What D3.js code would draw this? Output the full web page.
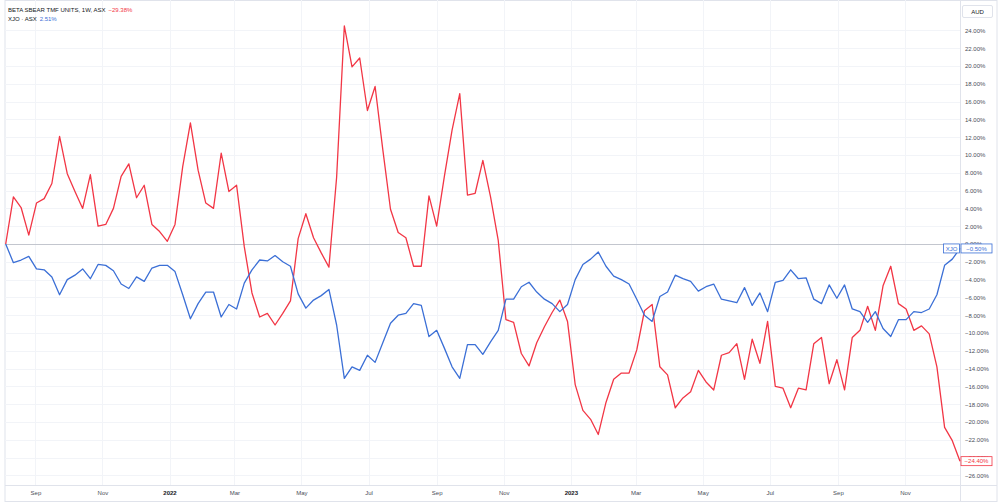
<html>
<head>
<script src="https://cdnjs.cloudflare.com/ajax/libs/d3/7.8.5/d3.min.js"></script>
<style>
  body { margin: 0; background: #fff; }
  text { font-family: "Liberation Sans", Arial, sans-serif; }
</style>
</head>
<body>
<script>

// weekly % change since first bar
var betaValues = [0, 5.3, 4.1, 1.0, 4.6, 5.1, 6.8, 12.1, 7.9, 5.9, 4.0, 7.8, 2.0, 2.2, 4.0, 7.6, 9.0, 5.2, 6.6, 2.2,
  1.4, 0.3, 2.2, 8.7, 13.6, 8.3, 4.6, 4.0, 10.2, 5.9, 6.6, -0.3, -5.5, -8.2, -7.8, -9.1, -7.8, -6.4, 0.6, 3.4,
  0.7, -1.0, -2.6, 7.5, 24.5, 19.9, 20.9, 15.0, 17.7, 10.6, 3.9, 1.3, 0.7, -2.5, -2.5, 5.4, 2.0, 7.6, 12.8, 16.9,
  5.5, 5.7, 9.4, 5.3, 0.4, -8.5, -8.8, -12.3, -13.7, -11.1, -9.3, -7.7, -6.3, -8.7, -15.8, -18.7, -19.7, -21.4, -17.8, -15.2,
  -14.5, -14.5, -11.9, -7.5, -6.8, -13.8, -14.7, -18.4, -17.3, -16.6, -14.2, -15.5, -16.4, -12.5, -12.2, -11.2, -15.2, -10.7, -13.4, -8.7,
  -16.0, -16.2, -18.4, -16.2, -16.4, -11.2, -10.5, -15.7, -13.0, -16.4, -10.5, -9.7, -7.0, -9.7, -4.7, -2.5, -6.7, -7.3, -9.7, -9.2,
  -10.1, -13.8, -20.6, -22.1, -24.4];

var xjoValues = [0, -2.1, -1.8, -1.4, -2.8, -2.9, -3.7, -5.7, -4.0, -3.5, -2.8, -3.9, -2.3, -2.4, -3.0, -4.5, -5.0, -3.7, -4.2, -2.7,
  -2.4, -2.4, -3.1, -5.7, -8.4, -6.7, -5.4, -5.4, -8.2, -6.8, -7.3, -4.4, -2.9, -1.8, -1.9, -1.3, -2.0, -2.5, -5.6, -7.2,
  -6.3, -5.8, -5.1, -9.1, -15.1, -13.8, -14.2, -12.5, -13.3, -11.1, -8.9, -8.0, -7.8, -6.7, -6.9, -10.4, -9.7, -11.7, -13.8, -15.1,
  -11.3, -11.3, -12.4, -11.0, -9.7, -6.2, -6.2, -4.8, -4.3, -5.4, -6.2, -6.7, -7.6, -6.8, -4.0, -2.3, -1.7, -0.9, -2.5, -3.6,
  -4.0, -4.5, -6.2, -8.0, -8.7, -5.9, -5.4, -3.5, -3.9, -4.2, -5.3, -4.8, -4.5, -6.2, -6.4, -6.6, -4.9, -6.9, -5.5, -7.6,
  -4.3, -4.1, -2.9, -3.9, -3.8, -6.2, -6.7, -4.6, -6.1, -4.6, -7.3, -7.6, -8.8, -7.6, -9.5, -10.4, -8.5, -8.5, -7.6, -7.7,
  -7.3, -5.7, -2.4, -1.7, -0.5];

var firstWeek = new Date(2021, 7, 5);
var weeks = betaValues.map(function(d, i) { return d3.timeDay.offset(firstWeek, 7 * i); });

var yTicks = d3.range(-26, 25, 2);

var legendMain = "BETA SBEAR TMF UNITS, 1W, ASX";
var legendMainChange = "\u221229.38%";
var legendCompare = "XJO \u00b7 ASX";
var legendCompareChange = "2.51%";
var lastLabels = { beta: "\u221224.40%", xjo: "\u22120.50%" };

var red = "#f23645", blue = "#3b6fd6";
var W = 1000, H = 504;
var plotLeft = 5, plotRight = 960, plotBottom = 485.5;

var svg = d3.select("body").append("svg").attr("width", W).attr("height", H);

var x = d3.scaleTime()
  .domain([weeks[0], weeks[weeks.length - 1]])
  .range([5.7, 960]);

var y = d3.scaleLinear()
  .domain([0, 24])
  .range([244, 30.4]);

var fmt = function(v) { return (v < 0 ? "\u2212" : "") + Math.abs(v).toFixed(2) + "%"; };

// frame
svg.append("rect").attr("x", plotLeft).attr("y", 0.5).attr("width", 997 - plotLeft).attr("height", 501)
  .attr("fill", "none").attr("stroke", "#e0e3eb");

// grid
var monthTicks = d3.timeMonth.every(2).range(new Date(2021, 8, 1), new Date(2023, 11, 2));

svg.append("g").selectAll("line").data(yTicks).enter().append("line")
  .attr("x1", plotLeft).attr("x2", plotRight)
  .attr("y1", function(d) { return Math.round(y(d)) + 0.5; })
  .attr("y2", function(d) { return Math.round(y(d)) + 0.5; })
  .attr("stroke", "#f2f4f8");

svg.append("g").selectAll("line").data(monthTicks).enter().append("line")
  .attr("x1", function(d) { return Math.round(x(d)) + 0.5; })
  .attr("x2", function(d) { return Math.round(x(d)) + 0.5; })
  .attr("y1", 0).attr("y2", plotBottom)
  .attr("stroke", "#f2f4f8");

// zero baseline
svg.append("line").attr("x1", plotLeft).attr("x2", plotRight)
  .attr("y1", y(0) + 0.5).attr("y2", y(0) + 0.5)
  .attr("stroke", "#c3c6ce");

// separators
svg.append("line").attr("x1", plotRight + 0.5).attr("x2", plotRight + 0.5).attr("y1", 0).attr("y2", 501)
  .attr("stroke", "#e0e3eb");
svg.append("line").attr("x1", plotLeft).attr("x2", 997).attr("y1", plotBottom).attr("y2", plotBottom)
  .attr("stroke", "#e0e3eb");

// y axis
var yAxis = d3.axisRight(y).tickValues(yTicks).tickSize(0).tickPadding(5).tickFormat(fmt);
var yg = svg.append("g").attr("transform", "translate(" + plotRight + ",0)").call(yAxis);
yg.select(".domain").remove();
yg.selectAll("text").attr("font-size", 6).attr("fill", "#4a4e59");

// x axis
var xAxis = d3.axisBottom(x).tickValues(monthTicks).tickSize(0).tickPadding(5)
  .tickFormat(function(d) { return d.getMonth() === 0 ? d3.timeFormat("%Y")(d) : d3.timeFormat("%b")(d); });
var xg = svg.append("g").attr("transform", "translate(0," + plotBottom + ")").call(xAxis);
xg.select(".domain").remove();
xg.selectAll("text").attr("font-size", 6).attr("fill", "#4a4e59")
  .attr("font-weight", function(d) { return d.getMonth() === 0 ? "bold" : null; })
  .attr("fill", function(d) { return d.getMonth() === 0 ? "#131722" : "#4a4e59"; });

// AUD box
svg.append("rect").attr("x", 962.5).attr("y", 5.5).attr("width", 30).attr("height", 12)
  .attr("fill", "#fff").attr("stroke", "#e0e3eb").attr("rx", 1.5);
svg.append("text").attr("x", 977.5).attr("y", 13.8).attr("text-anchor", "middle")
  .attr("font-size", 6).attr("fill", "#131722").text("AUD");

// lines
var line = d3.line()
  .x(function(d, i) { return x(weeks[i]); })
  .y(function(d) { return y(d); });

svg.append("path").datum(betaValues).attr("d", line)
  .attr("fill", "none").attr("stroke", red).attr("stroke-width", 1.3).attr("stroke-linejoin", "round");
svg.append("path").datum(xjoValues).attr("d", line)
  .attr("fill", "none").attr("stroke", blue).attr("stroke-width", 1.3).attr("stroke-linejoin", "round");

// last value labels
function lastLabel(val, txt, color, name) {
  var cy = y(val);
  var g = svg.append("g");
  g.append("rect").attr("x", 961).attr("y", cy - 4.5).attr("width", 31).attr("height", 9)
    .attr("fill", "#fff").attr("stroke", color).attr("stroke-width", 0.8);
  g.append("text").attr("x", 976.5).attr("y", cy + 2.2).attr("text-anchor", "middle")
    .attr("font-size", 6).attr("fill", color).text(txt);
  if (name) {
    g.append("rect").attr("x", 943.5).attr("y", cy - 4.5).attr("width", 16).attr("height", 9)
      .attr("fill", "#fff").attr("stroke", color).attr("stroke-width", 0.8);
    g.append("text").attr("x", 951.5).attr("y", cy + 2.2).attr("text-anchor", "middle")
      .attr("font-size", 6).attr("fill", color).text(name);
  }
}
lastLabel(xjoValues[xjoValues.length - 1], lastLabels.xjo, blue, "XJO");
lastLabel(betaValues[betaValues.length - 1], lastLabels.beta, red, null);

// legend
var l1 = svg.append("text").attr("x", 8).attr("y", 12).attr("font-size", 6).attr("fill", "#131722");
l1.append("tspan").text(legendMain);
l1.append("tspan").attr("dx", 3).attr("fill", red).text(legendMainChange);
var l2 = svg.append("text").attr("x", 8).attr("y", 20.5).attr("font-size", 6).attr("fill", "#131722");
l2.append("tspan").text(legendCompare);
l2.append("tspan").attr("dx", 3).attr("fill", blue).text(legendCompareChange);

</script>
</body>
</html>
